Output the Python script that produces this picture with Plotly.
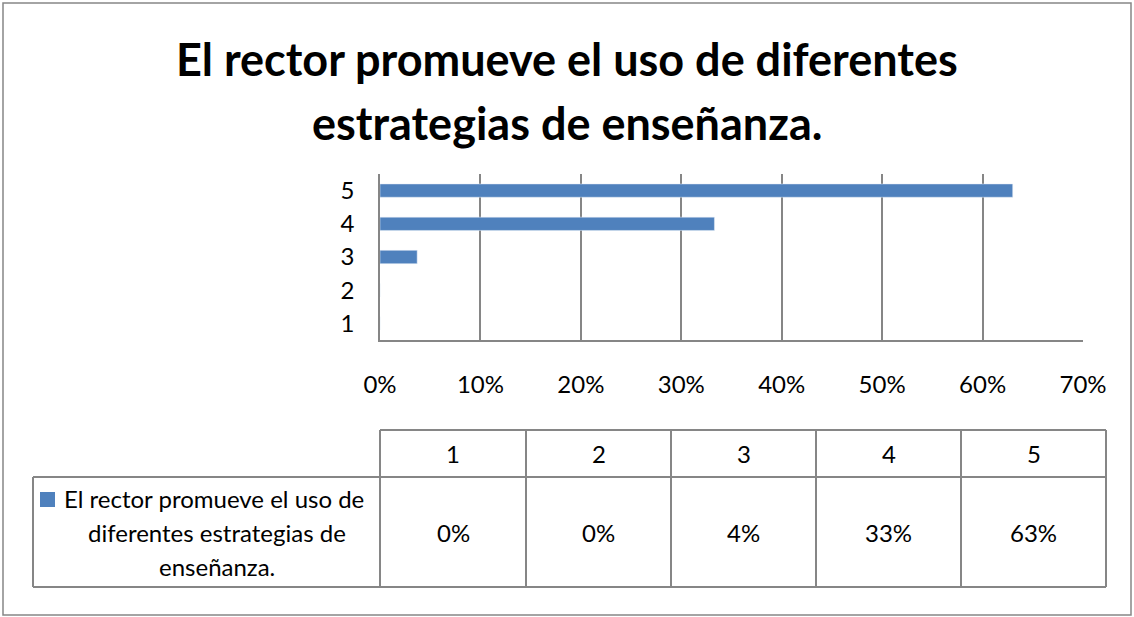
import plotly.graph_objects as go

# data
categories = ["1", "2", "3", "4", "5"]
values = [0.0, 0.0, 0.037, 0.333, 0.63]
series_lines = ["El rector promueve el uso de", "diferentes estrategias de", "enseñanza."]
series_name = " ".join(series_lines)
title_lines = ["El rector promueve el uso de diferentes", "estrategias de enseñanza."]
x_ticks = [0, 0.1, 0.2, 0.3, 0.4, 0.5, 0.6, 0.7]

W, H = 1134, 617
PL, PR, PT, PB = 380, 1083, 174, 340   # plot area in pixels
BLUE = "#4F81BD"
GRID = "#868686"
FONT = "Lato"
FS = 24


def px(x):
    return (x - PL) / (PR - PL)


def py(y):
    return (PB - y) / (PB - PT)


fig = go.Figure()
fig.add_trace(go.Bar(x=values, y=categories, orientation="h", marker_color=BLUE,
                     name=series_name, showlegend=False))

shapes = []
annotations = []

# outer border
shapes.append(dict(type="rect", xref="paper", yref="paper", x0=px(3), x1=px(1131),
                   y0=py(615), y1=py(3), line=dict(color=GRID, width=1.5)))

# title
for i, line in enumerate(title_lines):
    annotations.append(dict(text="<b>%s</b>" % line, xref="paper", yref="paper",
                            x=px(567), y=py(59 + 64 * i), xanchor="center", yanchor="middle",
                            showarrow=False, font=dict(family=FONT, size=45, color="black")))

# data table
col_edges = [380, 526, 671, 816, 961, 1106]
row_top, row_mid, row_bot = 430, 477, 587
tline = dict(color=GRID, width=2)
# horizontal lines
shapes.append(dict(type="line", xref="paper", yref="paper", x0=px(380), x1=px(1106),
                   y0=py(row_top), y1=py(row_top), line=tline))
shapes.append(dict(type="line", xref="paper", yref="paper", x0=px(33), x1=px(1106),
                   y0=py(row_mid), y1=py(row_mid), line=tline))
shapes.append(dict(type="line", xref="paper", yref="paper", x0=px(33), x1=px(1106),
                   y0=py(row_bot), y1=py(row_bot), line=tline))
# vertical lines
shapes.append(dict(type="line", xref="paper", yref="paper", x0=px(33), x1=px(33),
                   y0=py(row_mid), y1=py(row_bot), line=tline))
for e in col_edges:
    shapes.append(dict(type="line", xref="paper", yref="paper", x0=px(e), x1=px(e),
                       y0=py(row_top), y1=py(row_bot), line=tline))

for i, (cat, val) in enumerate(zip(categories, values)):
    cx = (col_edges[i] + col_edges[i + 1]) / 2
    annotations.append(dict(text=cat, xref="paper", yref="paper", x=px(cx),
                            y=py((row_top + row_mid) / 2), xanchor="center", yanchor="middle",
                            showarrow=False, font=dict(family=FONT, size=FS, color="black")))
    annotations.append(dict(text="%d%%" % round(val * 100), xref="paper", yref="paper", x=px(cx),
                            y=py((row_mid + row_bot) / 2), xanchor="center", yanchor="middle",
                            showarrow=False, font=dict(family=FONT, size=FS, color="black")))

# legend key + series name
shapes.append(dict(type="rect", xref="paper", yref="paper", x0=px(40), x1=px(55),
                   y0=py(507), y1=py(492), fillcolor=BLUE, line=dict(width=0)))
for i, line in enumerate(series_lines):
    annotations.append(dict(text=line, xref="paper", yref="paper", x=px(217 if i else 62),
                            y=py(498 + 34 * i), xanchor="center" if i else "left",
                            yanchor="middle", showarrow=False,
                            font=dict(family=FONT, size=FS, color="black")))

fig.update_layout(
    width=W, height=H,
    margin=dict(l=PL, r=W - PR, t=PT, b=H - PB),
    paper_bgcolor="white", plot_bgcolor="white",
    bargap=0.6,
    font=dict(family=FONT, size=FS, color="black"),
    xaxis=dict(range=[0, 0.7], tickvals=x_ticks, tickformat=".0%", showgrid=True,
               gridcolor=GRID, gridwidth=1.5, showline=True, linecolor=GRID, linewidth=1.5,
               zeroline=False, ticks="", ticklabelstandoff=22, fixedrange=True),
    yaxis=dict(categoryorder="array", categoryarray=categories, showgrid=False,
               showline=True, linecolor=GRID, linewidth=1.5, zeroline=False, ticks="",
               ticklabelstandoff=19, fixedrange=True),
    shapes=shapes,
    annotations=annotations,
)

fig.write_html("out.html", config={"displayModeBar": False},
               post_script="document.body.style.margin='0';")
